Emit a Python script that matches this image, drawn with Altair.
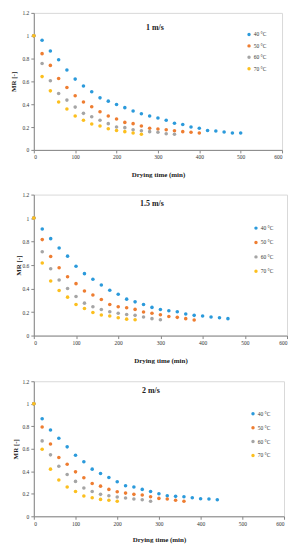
import altair as alt
import pandas as pd

temps = ["40 °C", "50 °C", "60 °C", "70 °C"]
colors = ["#2B9ADB", "#EE7D31", "#A5A5A5", "#FCBF1E"]

# 1 m/s
mr1_40 = [1, 0.96, 0.866, 0.79, 0.70, 0.62, 0.56, 0.51, 0.456, 0.427, 0.398, 0.37, 0.34, 0.317, 0.297, 0.28, 0.26, 0.233, 0.222, 0.20, 0.19, 0.17, 0.166, 0.157, 0.148, 0.148]
mr1_50 = [1, 0.843, 0.74, 0.625, 0.547, 0.474, 0.42, 0.378, 0.334, 0.297, 0.27, 0.241, 0.23, 0.21, 0.19, 0.183, 0.177, 0.168, 0.16, 0.154, 0.148]
mr1_60 = [1, 0.756, 0.605, 0.494, 0.436, 0.375, 0.32, 0.29, 0.26, 0.23, 0.20, 0.195, 0.177, 0.168, 0.16, 0.154, 0.142, 0.137]
mr1_70 = [1, 0.642, 0.517, 0.419, 0.358, 0.297, 0.26, 0.227, 0.21, 0.186, 0.17, 0.16, 0.148, 0.137]

# 1.5 m/s
mr2_40 = [1, 0.907, 0.825, 0.746, 0.676, 0.59, 0.527, 0.479, 0.431, 0.386, 0.352, 0.31, 0.287, 0.265, 0.24, 0.222, 0.211, 0.203, 0.183, 0.172, 0.166, 0.158, 0.152, 0.144]
mr2_50 = [1, 0.817, 0.673, 0.577, 0.501, 0.442, 0.38, 0.346, 0.307, 0.265, 0.245, 0.237, 0.223, 0.20, 0.19, 0.177, 0.163, 0.155, 0.144, 0.132]
mr2_60 = [1, 0.713, 0.569, 0.473, 0.40, 0.332, 0.276, 0.245, 0.222, 0.203, 0.19, 0.18, 0.172, 0.158, 0.144, 0.135]
mr2_70 = [1, 0.617, 0.465, 0.383, 0.327, 0.265, 0.231, 0.197, 0.175, 0.166, 0.152, 0.14, 0.135]

# 2 m/s
mr3_40 = [1, 0.867, 0.767, 0.693, 0.617, 0.543, 0.484, 0.419, 0.38, 0.345, 0.307, 0.271, 0.26, 0.239, 0.221, 0.20, 0.183, 0.177, 0.174, 0.165, 0.156, 0.153, 0.147]
mr3_50 = [1, 0.794, 0.643, 0.522, 0.463, 0.395, 0.342, 0.292, 0.268, 0.239, 0.218, 0.206, 0.195, 0.189, 0.174, 0.159, 0.153, 0.142, 0.133]
mr3_60 = [1, 0.67, 0.546, 0.445, 0.372, 0.31, 0.251, 0.221, 0.195, 0.183, 0.171, 0.162, 0.153, 0.147, 0.133]
mr3_70 = [1, 0.596, 0.419, 0.322, 0.26, 0.221, 0.18, 0.165, 0.15, 0.142, 0.133]

panel_titles = ["1 m/s", "1.5 m/s", "2 m/s"]

time_step = 20  # minutes between measurements

x_ticks = [0, 100, 200, 300, 400, 500, 600]
y_ticks = [0, 0.2, 0.4, 0.6, 0.8, 1.0, 1.2]

FONT = "Liberation Serif"


def frame(series):
    rows = []
    for temp, vals in zip(temps, series):
        for i, v in enumerate(vals):
            rows.append({"t": i * time_step, "mr": v, "temp": temp})
    return pd.DataFrame(rows)


def panel(series, title, w, h, tx, ty, ytitle_pad, xtitle_pad, lx, ly, row_pad):
    df = frame(series)
    pts = (
        alt.Chart(df)
        .mark_circle(size=13, opacity=1)
        .encode(
            x=alt.X("t:Q", scale=alt.Scale(domain=[0, 600], nice=False),
                    axis=alt.Axis(values=x_ticks, title="Drying time (min)", format="d",
                                  titlePadding=xtitle_pad, labelPadding=2)),
            y=alt.Y("mr:Q", scale=alt.Scale(domain=[0, 1.2], nice=False),
                    axis=alt.Axis(values=y_ticks, title="MR [-]", format="~g",
                                  titlePadding=ytitle_pad, labelPadding=2)),
            color=alt.Color("temp:N", scale=alt.Scale(domain=temps, range=colors),
                            legend=alt.Legend(title=None, orient="none", legendX=lx, legendY=ly,
                                              symbolType="circle", symbolSize=12,
                                              labelFont=FONT, labelFontSize=5.5,
                                              labelColor="#333333", rowPadding=row_pad,
                                              padding=0, labelOffset=2)),
        )
    )
    ttl = (
        alt.Chart(pd.DataFrame({"label": [title]}))
        .mark_text(font=FONT, fontSize=8, fontWeight="bold", color="#222222",
                   align="center", baseline="middle")
        .encode(text="label:N", x=alt.value(tx), y=alt.value(ty))
    )
    return alt.layer(pts, ttl).properties(width=w, height=h)


p1 = panel([mr1_40, mr1_50, mr1_60, mr1_70], panel_titles[0], 250, 138, 122, 15, 6, 10, 214, 19, 4.5)
p2 = panel([mr2_40, mr2_50, mr2_60, mr2_70], panel_titles[1], 255, 142, 119, 9, 1, 11, 221, 31, 7.5)
p3 = panel([mr3_40, mr3_50, mr3_60, mr3_70], panel_titles[2], 252, 136, 118, 10, 4, 9, 218, 30, 7)

chart = (
    alt.concat(p1, p2, p3, columns=1, spacing=14, align="none")
    .resolve_scale(color="independent")
    .resolve_legend(color="independent")
    .properties(padding=0)
    .configure_view(stroke="#D9D9D9", strokeWidth=1)
    .configure_axis(
        grid=False, domainColor="#868686", tickColor="#868686", tickSize=3,
        labelFont=FONT, labelFontSize=5.5, labelColor="#333333",
        titleFont=FONT, titleFontSize=7, titleFontWeight="bold", titleColor="#222222",
    )
)

chart.save("out.html", embed_options={"renderer": "svg", "actions": False})
